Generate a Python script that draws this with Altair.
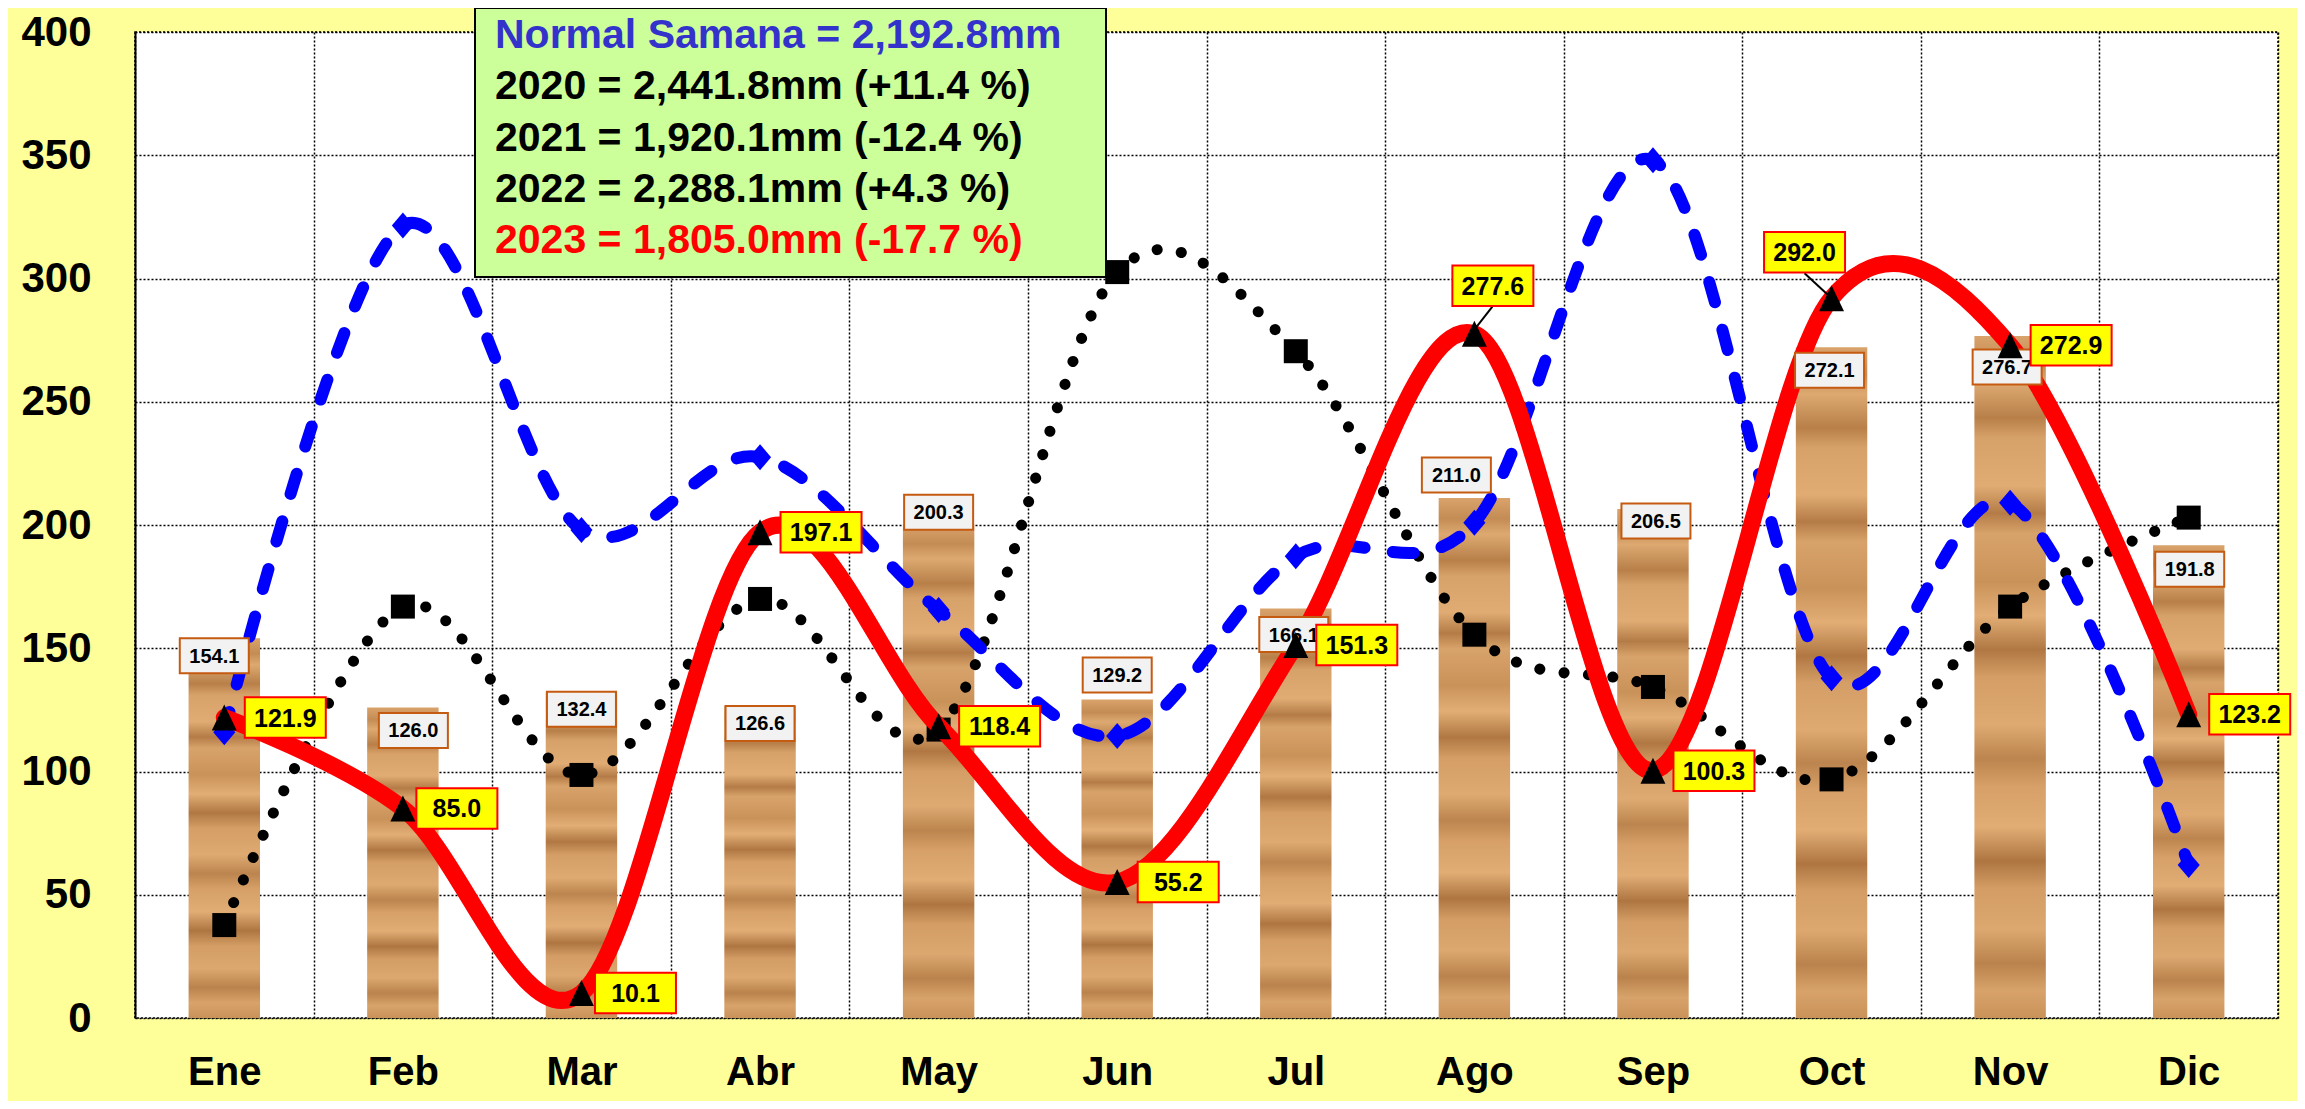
import altair as alt
import pandas as pd

# ---------------- data ----------------
months = ["Ene", "Feb", "Mar", "Abr", "May", "Jun", "Jul", "Ago", "Sep", "Oct", "Nov", "Dic"]
normal = [154.1, 126.0, 132.4, 126.6, 200.3, 129.2, 166.1, 211.0, 206.5, 272.1, 276.7, 191.8]
rain_2021 = [37.7, 166.9, 98.6, 170.0, 117.0, 302.6, 270.5, 155.5, 134.3, 96.8, 166.9, 203.0]
rain_2022 = [115.9, 321.5, 198.0, 227.5, 165.5, 114.4, 187.3, 200.9, 348.0, 137.8, 209.0, 62.1]
rain_2023 = [121.9, 85.0, 10.1, 197.1, 118.4, 55.2, 151.3, 277.6, 100.3, 292.0, 272.9, 123.2]
y_ticks = [0, 50, 100, 150, 200, 250, 300, 350, 400]
legend_lines = [
    "Normal Samana = 2,192.8mm",
    "2020 = 2,441.8mm (+11.4 %)",
    "2021 = 1,920.1mm (-12.4 %)",
    "2022 = 2,288.1mm (+4.3 %)",
    "2023 = 1,805.0mm (-17.7 %)",
]
legend_colors = ["#3333CC", "#000000", "#000000", "#000000", "#FF0000"]


def series(vals):
    return pd.DataFrame({"mes": months, "v": vals})


df_normal = series(normal)
df_2021 = series(rain_2021)
df_2022 = series(rain_2022)
df_2023 = series(rain_2023)
one_row = pd.DataFrame({"k": [0]})

# ---------------- style ----------------
FONT = "Liberation Sans"
TOP = 24

wood = {
    "gradient": "linear", "x1": 0, "x2": 0, "y1": 0, "y2": 1,
    "stops": [
        {"offset": 0.00, "color": "#D9A36B"}, {"offset": 0.04, "color": "#C48C55"},
        {"offset": 0.07, "color": "#DDA971"}, {"offset": 0.12, "color": "#B87F49"},
        {"offset": 0.15, "color": "#D7A26A"}, {"offset": 0.22, "color": "#E0AC74"},
        {"offset": 0.26, "color": "#B47B46"}, {"offset": 0.29, "color": "#D8A36B"},
        {"offset": 0.36, "color": "#C99259"}, {"offset": 0.41, "color": "#E2AE76"},
        {"offset": 0.46, "color": "#B07742"}, {"offset": 0.50, "color": "#D49E66"},
        {"offset": 0.57, "color": "#DEAA72"}, {"offset": 0.62, "color": "#BC844E"},
        {"offset": 0.66, "color": "#D6A068"}, {"offset": 0.72, "color": "#E1AD75"},
        {"offset": 0.77, "color": "#AE7541"}, {"offset": 0.81, "color": "#D39D65"},
        {"offset": 0.87, "color": "#DCA870"}, {"offset": 0.92, "color": "#BA824C"},
        {"offset": 0.96, "color": "#D8A36B"}, {"offset": 1.00, "color": "#C99259"},
    ],
}

X = alt.X(
    "mes:N", sort=months,
    scale=alt.Scale(paddingInner=0, paddingOuter=0),
    axis=alt.Axis(
        title=None, labelAngle=0, labelFont=FONT, labelFontSize=40, labelFontWeight="bold",
        labelColor="black", labelPadding=34, ticks=False, domain=False,
        grid=True, gridColor="black", gridDash=[2, 2], gridWidth=1.5, tickBand="extent",
    ),
)
Y = alt.Y(
    "v:Q",
    scale=alt.Scale(domain=[0, 400], nice=False),
    axis=alt.Axis(
        title=None, values=y_ticks, labelFont=FONT, labelFontSize=42, labelFontWeight="bold",
        labelColor="black", labelPadding=44, ticks=False,
        domain=True, domainColor="black", domainWidth=2,
        grid=True, gridColor="black", gridDash=[2, 2], gridWidth=1.5,
    ),
)

layers = []

# bars (normal)
layers.append(
    alt.Chart(df_normal).mark_bar(width={"band": 0.4}, color=wood).encode(x=X, y=Y)
)

# 2021 black dotted with squares
layers.append(
    alt.Chart(df_2021).mark_line(
        color="black", strokeWidth=11, strokeDash=[0.1, 24.4], strokeCap="round",
        interpolate="cardinal",
    ).encode(x=X, y=Y)
)
layers.append(
    alt.Chart(df_2021).mark_point(
        shape="square", size=576, filled=True, color="black", opacity=1
    ).encode(x=X, y=Y)
)

# 2022 blue dashed with diamonds
layers.append(
    alt.Chart(df_2022).mark_line(
        color="#0000FF", strokeWidth=12, strokeDash=[21, 28.5], strokeCap="round",
        interpolate="cardinal",
    ).encode(x=X, y=Y)
)
layers.append(
    alt.Chart(df_2022).mark_point(
        shape="M0,-1L0.85,0L0,1L-0.85,0Z", size=676, filled=True, color="#0000FF", opacity=1
    ).encode(x=X, y=Y)
)

# 2023 red thick line
layers.append(
    alt.Chart(df_2023).mark_line(
        color="#FF0000", strokeWidth=17, strokeCap="round", interpolate="cardinal"
    ).encode(x=X, y=Y)
)

# bar value labels (white boxes)
bar_label_offsets = {
    "Ene": (-10, 17.5), "Feb": (10.5, 23), "Mar": (0, 17.5), "Abr": (0, 17.5),
    "May": (0, -12), "Jun": (0, -24.5), "Jul": (-2, 26), "Ago": (-18, -23),
    "Sep": (3, 12), "Oct": (-2, 23), "Nov": (-3, 31), "Dic": (1, 24),
}
BAR_BOX = "M-1,-0.507H1V0.507H-1Z"
for m in months:
    dx, dy = bar_label_offsets[m]
    base = alt.Chart(df_normal).transform_filter(alt.datum.mes == m)
    layers.append(
        base.mark_point(
            shape=BAR_BOX, size=69 * 69, filled=True, fill="#F2F2F2", stroke="#C55A11",
            strokeWidth=2, opacity=1, fillOpacity=1, strokeOpacity=1, xOffset=dx, yOffset=dy,
        ).encode(x=X, y=Y)
    )
    layers.append(
        base.mark_text(
            font=FONT, fontSize=20, fontWeight="bold", color="black", align="center",
            baseline="middle", dx=dx, dy=dy + 1,
        ).encode(x=X, y=Y, text=alt.Text("v:Q", format=".1f"))
    )

# leader lines for Ago and Oct labels
layers.append(
    alt.Chart(df_2023).transform_filter(alt.datum.mes == "Ago").mark_rule(
        color="black", strokeWidth=2, yOffset=-4, x2Offset=18, y2Offset=-27
    ).encode(x=X, x2=alt.X2("mes"), y=Y, y2=alt.Y2("v"))
)
layers.append(
    alt.Chart(df_2023).transform_filter(alt.datum.mes == "Oct").mark_rule(
        color="black", strokeWidth=2, x2Offset=-27, y2Offset=-25
    ).encode(x=X, x2=alt.X2("mes"), y=Y, y2=alt.Y2("v"))
)

# triangles on 2023 points
layers.append(
    alt.Chart(df_2023).mark_point(
        shape="M0,-1L0.96,1L-0.96,1Z", size=676, filled=True, color="black", opacity=1
    ).encode(x=X, y=Y)
)

# yellow labels for 2023
yellow_offsets = {m: (61, 0) for m in months}
yellow_offsets.update({"Feb": (54, 0), "Mar": (54, 0), "Ago": (18.5, -48), "Oct": (-27, -46)})
Y_BOX = "M-1,-0.5H1V0.5H-1Z"
for m in months:
    dx, dy = yellow_offsets[m]
    base = alt.Chart(df_2023).transform_filter(alt.datum.mes == m)
    layers.append(
        base.mark_point(
            shape=Y_BOX, size=81 * 81, filled=True, fill="#FFFF00", stroke="#FF0000",
            strokeWidth=2, opacity=1, fillOpacity=1, strokeOpacity=1, xOffset=dx, yOffset=dy,
        ).encode(x=X, y=Y)
    )
    layers.append(
        base.mark_text(
            font=FONT, fontSize=25, fontWeight="bold", color="black", align="center",
            baseline="middle", dx=dx, dy=dy + 1,
        ).encode(x=X, y=Y, text=alt.Text("v:Q", format=".1f"))
    )

# legend box
layers.append(
    alt.Chart(one_row).mark_rect(fill="#CCFF99", stroke="black", strokeWidth=2).encode(
        x=alt.value(340), x2=alt.value(971), y=alt.value(-TOP), y2=alt.value(269 - TOP)
    )
)
for i, (txt, col) in enumerate(zip(legend_lines, legend_colors)):
    layers.append(
        alt.Chart(one_row).mark_text(
            text=txt, color=col, font=FONT, fontSize=41, fontWeight="bold",
            align="left", baseline="middle",
        ).encode(x=alt.value(360), y=alt.value(28 - TOP + 51.3 * i))
    )

chart = (
    alt.layer(*layers)
    .properties(
        width=2143, height=986, background="#FFFF99",
        autosize=alt.AutoSizeParams(type="none"),
        padding={"left": 127, "top": TOP, "right": 19, "bottom": 1093 - TOP - 986},
    )
    .configure_view(fill="white", stroke="black", strokeDash=[2, 2], strokeWidth=1.5)
)

chart.save("out.html", embed_options={"renderer": "svg", "actions": False})
